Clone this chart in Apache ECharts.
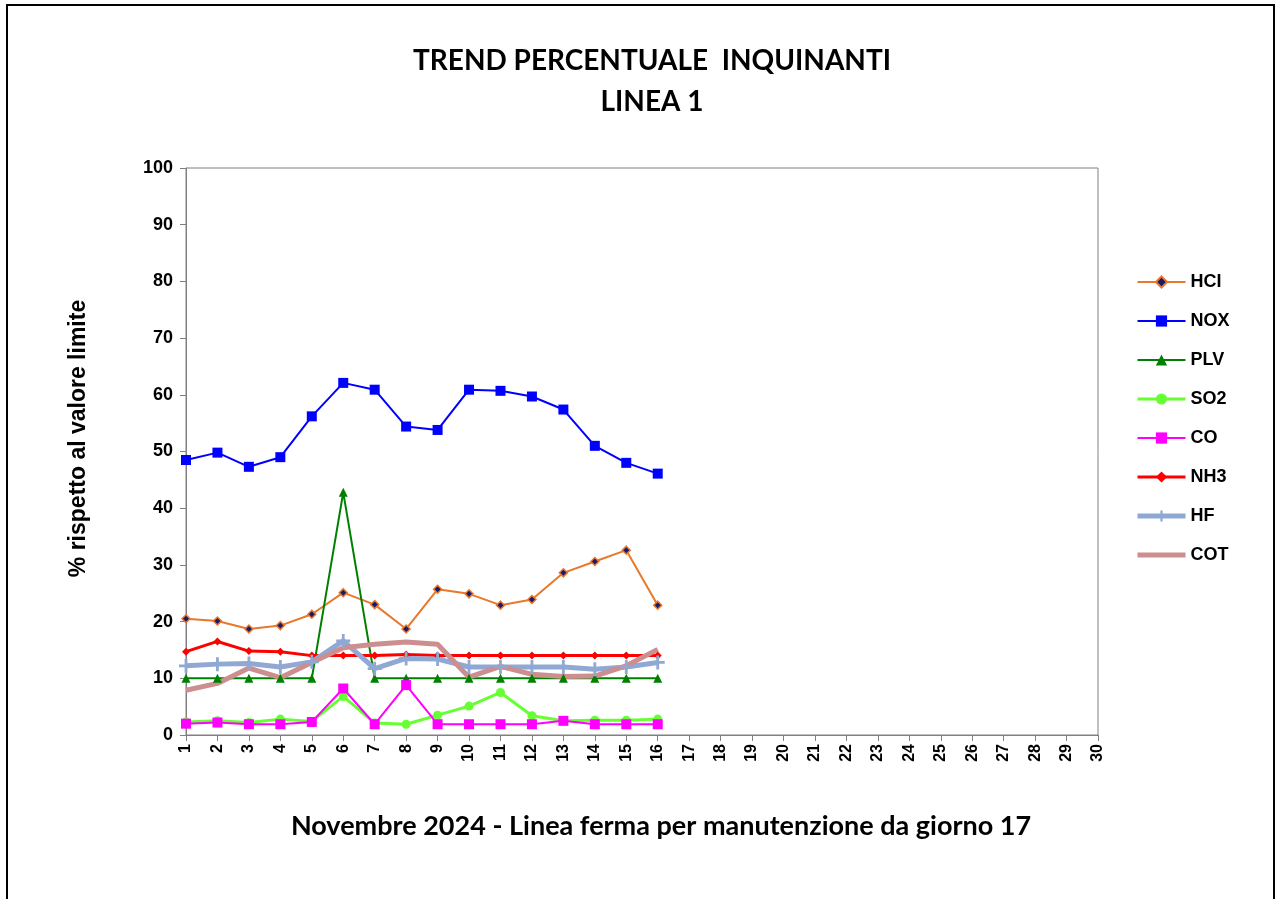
<!DOCTYPE html>
<html>
<head>
<meta charset="utf-8">
<title>Trend percentuale inquinanti</title>
<script src="https://cdn.jsdelivr.net/npm/echarts@6/dist/echarts.min.js"></script>
<style>
    html, body { margin: 0; padding: 0; background: #fff; }
    #chart01 { width: 1275px; height: 899px; }
</style>
</head>
<body>
<div id="chart01"></div>
<script>
// giorni del mese
var giorni = [];
for (var g = 1; g <= 30; g++) { giorni.push(String(g)); }

var yTicks = [0, 10, 20, 30, 40, 50, 60, 70, 80, 90, 100];

// valori letti per giorni 1-16, dal 17 linea ferma
var hcl = [20.5, 20.1, 18.7, 19.3, 21.3, 25.1, 23.0, 18.7, 25.7, 24.9, 22.9, 23.9, 28.6, 30.6, 32.6, 22.9];
var nox = [48.5, 49.8, 47.3, 49.0, 56.2, 62.1, 60.9, 54.4, 53.8, 60.9, 60.7, 59.7, 57.4, 51.0, 48.0, 46.1];
var plv = [10, 10, 10, 10, 10, 42.8, 10, 10, 10, 10, 10, 10, 10, 10, 10, 10];
var so2 = [2.3, 2.5, 2.2, 2.8, 2.4, 6.8, 2.1, 1.9, 3.5, 5.1, 7.5, 3.4, 2.5, 2.6, 2.6, 2.8];
var co = [2.0, 2.2, 1.9, 1.9, 2.3, 8.2, 1.9, 8.8, 1.9, 1.9, 1.9, 1.9, 2.5, 1.9, 1.9, 1.9];
var nh3 = [14.7, 16.5, 14.8, 14.7, 14.0, 14.0, 14.0, 14.2, 14.0, 14.0, 14.0, 14.0, 14.0, 14.0, 14.0, 14.0];
var hf = [12.2, 12.5, 12.6, 12.0, 12.9, 16.6, 11.7, 13.5, 13.4, 12.0, 12.0, 12.0, 12.0, 11.6, 12.0, 12.8];
var cot = [7.9, 9.1, 11.8, 10.1, 12.8, 15.4, 16.0, 16.4, 16.0, 10.2, 12.1, 10.7, 10.3, 10.4, 12.2, 15.1];

function chart01(id) {
    var myChart = echarts.init(document.getElementById(id));
    var plus = 'path://M4,0 L6,0 L6,4 L10,4 L10,6 L6,6 L6,10 L4,10 L4,6 L0,6 L0,4 L4,4 Z';

    function serie(name, data, color, width, symbol, size, extra) {
        var s = {
            name: name,
            type: 'line',
            data: data,
            symbol: symbol,
            symbolSize: size,
            showSymbol: symbol !== 'none',
            connectNulls: false,
            animation: false,
            lineStyle: { color: color, width: width },
            itemStyle: { color: color },
            emphasis: { disabled: true }
        };
        if (extra) {
            for (var k in extra) { s[k] = extra[k]; }
        }
        return s;
    }

    var option = {
        backgroundColor: '#fff',
        textStyle: { fontFamily: 'Liberation Sans' },
        title: {
            text: 'TREND PERCENTUALE  INQUINANTI\nLINEA 1',
            left: 647,
            textAlign: 'center',
            top: 35,
            textStyle: {
                fontFamily: 'Lato',
                fontWeight: 'bold',
                fontSize: 28,
                lineHeight: 41,
                color: '#000'
            }
        },
        legend: {
            orient: 'vertical',
            left: 1130,
            top: 268,
            itemWidth: 48,
            itemHeight: 14,
            itemGap: 21,
            textStyle: {
                fontFamily: 'Liberation Sans',
                fontWeight: 'bold',
                fontSize: 18,
                color: '#000'
            },
            data: [
                'HCl', 'NOX', 'PLV',
                { name: 'SO2', lineStyle: { width: 3 } },
                'CO',
                { name: 'NH3', lineStyle: { width: 3 } },
                { name: 'HF', lineStyle: { width: 5 } },
                { name: 'COT', lineStyle: { width: 5 }, itemStyle: { opacity: 0 } }
            ],
            formatter: function (n) { return n === 'HCl' ? 'HCI' : n; }
        },
        graphic: [{
            type: 'rect',
            shape: { x: 7, y: 5, width: 1267, height: 905 },
            style: { fill: 'none', stroke: '#000', lineWidth: 2 },
            silent: true
        }],
        grid: {
            left: 186,
            right: 177,
            top: 168,
            bottom: 164,
            show: true,
            borderColor: '#808080',
            borderWidth: 1
        },
        xAxis: {
            type: 'category',
            data: giorni,
            boundaryGap: false,
            name: 'Novembre 2024 - Linea ferma per manutenzione da giorno 17',
            nameLocation: 'middle',
            nameGap: 78,
            nameTextStyle: {
                fontFamily: 'Lato',
                fontWeight: 'bold',
                fontSize: 27,
                color: '#000',
                padding: [0, 0, 0, 38]
            },
            axisLine: { lineStyle: { color: '#808080' } },
            axisTick: { show: true, inside: false, length: 6, alignWithLabel: true, lineStyle: { color: '#808080' } },
            axisLabel: {
                interval: 0,
                rotate: 90,
                margin: 9,
                fontFamily: 'Liberation Sans',
                fontWeight: 'bold',
                fontSize: 16,
                color: '#000'
            },
            splitLine: { show: false }
        },
        yAxis: {
            type: 'value',
            min: yTicks[0],
            max: yTicks[yTicks.length - 1],
            interval: 10,
            name: '% rispetto al valore limite',
            nameLocation: 'middle',
            nameGap: 96,
            nameRotate: 90,
            nameTextStyle: {
                fontFamily: 'Liberation Sans',
                fontWeight: 'bold',
                fontSize: 23,
                color: '#000',
                padding: [0, 0, 0, 26]
            },
            axisLine: { show: true, lineStyle: { color: '#808080' } },
            axisTick: { show: true, inside: false, length: 6, lineStyle: { color: '#808080' } },
            axisLabel: {
                margin: 13,
                fontFamily: 'Liberation Sans',
                fontWeight: 'bold',
                fontSize: 18,
                color: '#000'
            },
            splitLine: { show: false }
        },
        series: [
            serie('HCl', hcl, '#E8782A', 2, 'diamond', 8, {
                itemStyle: { color: '#1a1a6e', borderColor: '#E8782A', borderWidth: 1.5 }
            }),
            serie('NOX', nox, '#0000FF', 2, 'rect', 10),
            serie('PLV', plv, '#008000', 2, 'triangle', 9),
            serie('SO2', so2, '#66FF33', 3, 'circle', 9),
            serie('CO', co, '#FF00FF', 2, 'rect', 10),
            serie('NH3', nh3, '#FF0000', 3, 'diamond', 8),
            serie('HF', hf, '#8FA8D4', 5, plus, 14),
            serie('COT', cot, '#CC8E8E', 5, 'none', 0)
        ]
    };
    myChart.setOption(option);
    return myChart;
}

var chartInit01 = chart01('chart01');
window.addEventListener('resize', function () {
    chartInit01.resize();
});
</script>
</body>
</html>
